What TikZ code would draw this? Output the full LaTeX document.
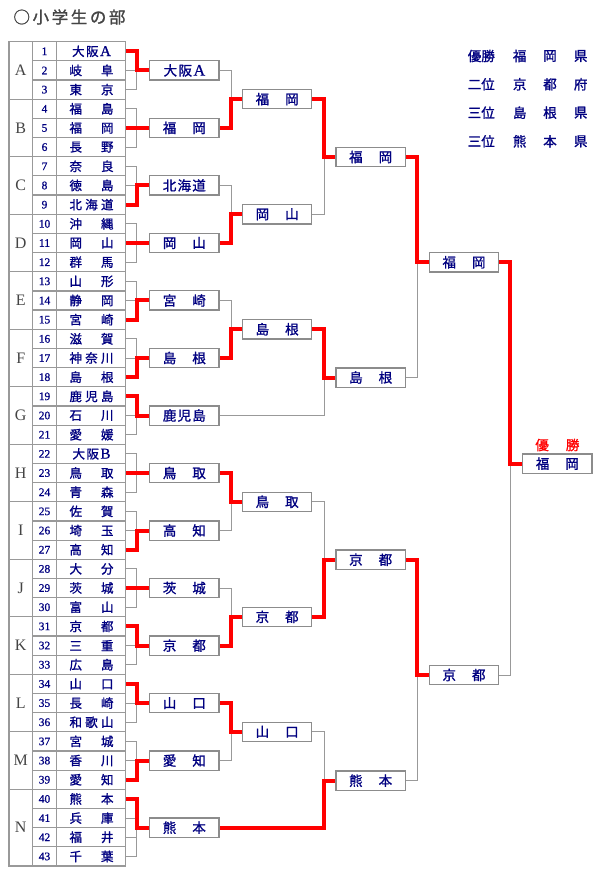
\documentclass[tikz,border=0pt]{standalone}
\usepackage{fontspec}
\setmainfont{Liberation Serif}
\newfontfamily\jp[FakeBold=1.2]{Noto Sans CJK JP}
\newfontfamily\lat[FakeBold=0.8]{Liberation Serif}
\definecolor{navy}{HTML}{000080}
\definecolor{linegray}{HTML}{999999}
\definecolor{boxgray}{HTML}{8C8C8C}
\definecolor{titlegray}{HTML}{444444}
\pgfdeclarelayer{bg}
\pgfsetlayers{bg,main}
\begin{document}
\begin{tikzpicture}[x=1pt,y=-1pt,
  gl/.style={draw=linegray,line width=1pt},
  rl/.style={draw=red,line width=4pt,line join=miter},
  tbl/.style={draw=linegray,line width=1.2pt},
  tname/.style={inner sep=0pt,text=navy,font=\jp\fontsize{12.5}{12.5}\selectfont},
  tnum/.style={inner sep=0pt,text=navy,font=\lat\fontsize{11.5}{11.5}\selectfont},
  grp/.style={inner sep=0pt,text=titlegray,font=\fontsize{16}{16}\selectfont},
  box/.style={draw=boxgray,line width=1.3pt,fill=white,minimum width=69.3pt,minimum height=19.3pt,inner sep=0pt,text=navy,font=\jp\fontsize{13.5}{13.5}\selectfont},
  leg/.style={inner sep=0pt,text=navy,font=\jp\fontsize{13.5}{13.5}\selectfont}]
\begin{pgfonlayer}{bg}
\fill[white] (0,0) rectangle (610,880);
\end{pgfonlayer}
\useasboundingbox (0,0) rectangle (610,880);

% title
\node[anchor=west,inner sep=0pt,text=titlegray,font=\jp\fontsize{16.5}{16.5}\selectfont] (title) at (13.3,17) {\hbox to 112pt{○\hfill 小\hfill 学\hfill 生\hfill の\hfill 部}};

% table frame
\draw[tbl] (9,41.7) rectangle (125.3,866);
\draw[tbl] (32.3,41.7) -- (32.3,866);
\draw[tbl] (56.7,41.7) -- (56.7,866);
\foreach \k in {1,...,42} {
  \pgfmathsetmacro\yy{41.7+\k*19.17}
  \draw[tbl] (32.3,\yy) -- (125.3,\yy);
}
\foreach \k in {3,6,...,39} {
  \pgfmathsetmacro\yy{41.7+\k*19.17}
  \draw[tbl] (9,\yy) -- (32.3,\yy);
}

% group letters
\foreach \g/\c in {A/2,B/5,C/8,D/11,E/14,F/17,G/20,H/23,I/26,J/29,K/32,L/35,M/38,N/41.5} {
  \pgfmathsetmacro\yy{41.7+(\c-0.5)*19.17}
  \node[grp] (g\g) at (20.7,\yy) {\g};
}

% teams
\foreach \i/\nm in {1/{\hfil 大\kern1.5pt 阪\kern1.5pt{\lat\fontsize{15}{15}\selectfont A}\hfil},2/{岐\hfill 阜},3/{東\hfill 京},4/{福\hfill 島},5/{福\hfill 岡},6/{長\hfill 野},7/{奈\hfill 良},8/{徳\hfill 島},9/{北\hfill 海\hfill 道},10/{沖\hfill 縄},11/{岡\hfill 山},12/{群\hfill 馬},13/{山\hfill 形},14/{静\hfill 岡},15/{宮\hfill 崎},16/{滋\hfill 賀},17/{神\hfill 奈\hfill 川},18/{島\hfill 根},19/{鹿\hfill 児\hfill 島},20/{石\hfill 川},21/{愛\hfill 媛},22/{\hfil 大\kern1.5pt 阪\kern1.5pt{\lat\fontsize{15}{15}\selectfont B}\hfil},23/{鳥\hfill 取},24/{青\hfill 森},25/{佐\hfill 賀},26/{埼\hfill 玉},27/{高\hfill 知},28/{大\hfill 分},29/{茨\hfill 城},30/{富\hfill 山},31/{京\hfill 都},32/{三\hfill 重},33/{広\hfill 島},34/{山\hfill 口},35/{長\hfill 崎},36/{和\hfill 歌\hfill 山},37/{宮\hfill 城},38/{香\hfill 川},39/{愛\hfill 知},40/{熊\hfill 本},41/{兵\hfill 庫},42/{福\hfill 井},43/{千\hfill 葉}} {
  \pgfmathsetmacro\yy{41.7+(\i-0.5)*19.17}
  \node[tnum] (k\i) at (44.5,\yy) {\i};
  \node[tname] (n\i) at (91.5,\yy) {\hbox to 44pt{\nm}};
  \coordinate (t\i) at (125.3,\yy);
}

% junction columns
\coordinate (j1) at (136.5,0);
\coordinate (j2) at (231,0);
\coordinate (j3) at (324.3,0);
\coordinate (j4) at (417.3,0);
\coordinate (j5) at (510.3,0);

% round 1 boxes
\foreach \n/\y/\nm in {a/70.455/{\hfil 大\kern1.5pt 阪\kern1.5pt{\lat\fontsize{16}{16}\selectfont A}\hfil},b/127.965/{福\hfill 岡},c/185.475/{北\hfill 海\hfill 道},d/242.985/{岡\hfill 山},e/300.495/{宮\hfill 崎},f/358.005/{島\hfill 根},g/415.515/{鹿\hfill 児\hfill 島},h/473.025/{鳥\hfill 取},i/530.535/{高\hfill 知},j/588.045/{茨\hfill 城},k/645.555/{京\hfill 都},l/703.065/{山\hfill 口},m/760.575/{愛\hfill 知},n/827.67/{熊\hfill 本}} {
  \node[box] (r1\n) at (184.35,\y) {\hbox to 43pt{\nm}};
}
% round 2 boxes
\foreach \n/\y/\nm in {a/99.2/{福\hfill 岡},b/214.2/{岡\hfill 山},c/329.25/{島\hfill 根},d/501.8/{鳥\hfill 取},e/616.8/{京\hfill 都},f/731.8/{山\hfill 口}} {
  \node[box] (r2\n) at (277.15,\y) {\hbox to 43pt{\nm}};
}
% round 3 boxes
\foreach \n/\y/\nm in {a/157/{福\hfill 岡},b/377.5/{島\hfill 根},c/559.7/{京\hfill 都},d/780.7/{熊\hfill 本}} {
  \node[box] (r3\n) at (370.65,\y) {\hbox to 43pt{\nm}};
}
% round 4 boxes
\node[box] (r4a) at (464,262.3) {\hbox to 43pt{福\hfill 岡}};
\node[box] (r4b) at (464,675) {\hbox to 43pt{京\hfill 都}};
% final
\node[box] (fin) at (557.35,463.7) {\hbox to 43pt{福\hfill 岡}};
\node[inner sep=0pt,text=red,font=\jp\fontsize{13.5}{13.5}\selectfont] (champ) at (557.35,445) {\hbox to 44pt{優\hfill 勝}};

% legend
\foreach \r/\y/\a/\b/\c/\d in {1/56/優勝/福/岡/県,2/84.3/二位/京/都/府,3/112.7/三位/島/根/県,4/141.3/三位/熊/本/県} {
  \node[leg] (la\r) at (481.3,\y) {\a};
  \node[leg] (lb\r) at (519.7,\y) {\b};
  \node[leg] (lc\r) at (550,\y) {\c};
  \node[leg] (ld\r) at (580.7,\y) {\d};
}

\begin{pgfonlayer}{bg}
% team -> round 1
\foreach \i/\b in {1/r1a,2/r1a,3/r1a,4/r1b,5/r1b,6/r1b,7/r1c,8/r1c,9/r1c,10/r1d,11/r1d,12/r1d,13/r1e,14/r1e,15/r1e,16/r1f,17/r1f,18/r1f,19/r1g,20/r1g,21/r1g,22/r1h,23/r1h,24/r1h,25/r1i,26/r1i,27/r1i,28/r1j,29/r1j,30/r1j,31/r1k,32/r1k,33/r1k,34/r1l,35/r1l,36/r1l,37/r1m,38/r1m,39/r1m,40/r1n,41/r1n,42/r1n,43/r1n} {
  \draw[gl] (t\i) -- (t\i -| j1) |- (\b.west);
}
% round 1 -> round 2
\foreach \s/\d in {r1a/r2a,r1b/r2a,r1c/r2b,r1d/r2b,r1e/r2c,r1f/r2c,r1h/r2d,r1i/r2d,r1j/r2e,r1k/r2e,r1l/r2f,r1m/r2f} {
  \draw[gl] (\s.east) -- (\s.east -| j2) |- (\d.west);
}
% round 2 -> round 3
\foreach \s/\d in {r2a/r3a,r2b/r3a,r2c/r3b,r1g/r3b,r2d/r3c,r2e/r3c,r2f/r3d,r1n/r3d} {
  \draw[gl] (\s.east) -- (\s.east -| j3) |- (\d.west);
}
% round 3 -> round 4
\foreach \s/\d in {r3a/r4a,r3b/r4a,r3c/r4b,r3d/r4b} {
  \draw[gl] (\s.east) -- (\s.east -| j4) |- (\d.west);
}
% round 4 -> final
\foreach \s in {r4a,r4b} {
  \draw[gl] (\s.east) -- (\s.east -| j5) |- (fin.west);
}
% winners (red)
\foreach \i/\b in {1/r1a,5/r1b,9/r1c,11/r1d,15/r1e,18/r1f,19/r1g,23/r1h,27/r1i,29/r1j,31/r1k,34/r1l,39/r1m,40/r1n} {
  \draw[rl] (t\i) -- (t\i -| j1) |- (\b.west);
}
\foreach \s/\d in {r1b/r2a,r1d/r2b,r1f/r2c,r1h/r2d,r1k/r2e,r1l/r2f} {
  \draw[rl] (\s.east) -- (\s.east -| j2) |- (\d.west);
}
\foreach \s/\d in {r2a/r3a,r2c/r3b,r2e/r3c,r1n/r3d} {
  \draw[rl] (\s.east) -- (\s.east -| j3) |- (\d.west);
}
\foreach \s/\d in {r3a/r4a,r3c/r4b} {
  \draw[rl] (\s.east) -- (\s.east -| j4) |- (\d.west);
}
\draw[rl] (r4a.east) -- (r4a.east -| j5) |- (fin.west);
\end{pgfonlayer}
\end{tikzpicture}
\end{document}
